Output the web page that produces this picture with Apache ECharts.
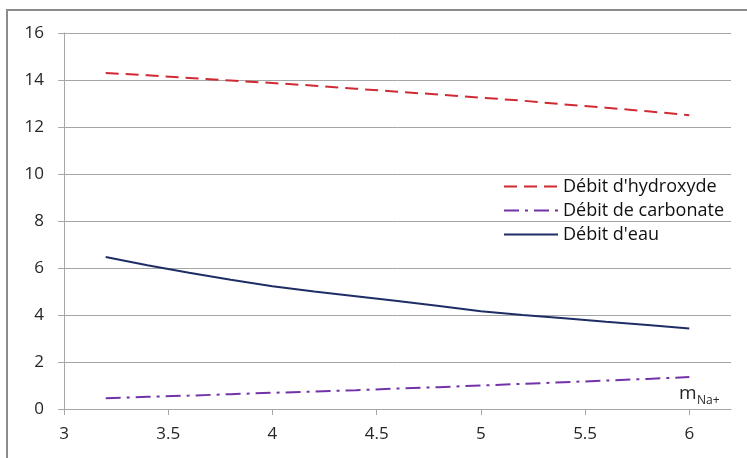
<!DOCTYPE html>
<html><head><meta charset="utf-8">
<script src="https://cdn.jsdelivr.net/npm/echarts@6/dist/echarts.min.js"></script>
<style>html,body{margin:0;padding:0;background:#fff}#c{width:747px;height:458px}</style>
</head><body><div id="c"></div>
<script>
const xValues = [3.2, 3.4, 3.6, 3.8, 4.0, 4.2, 4.4, 4.6, 4.8, 5.0, 5.2, 5.4, 5.6, 5.8, 6.0];
const hydroxyde = [14.30, 14.20, 14.09, 13.98, 13.87, 13.76, 13.63, 13.50, 13.38, 13.25, 13.12, 12.96, 12.82, 12.67, 12.50];
const carbonate = [0.46, 0.52, 0.57, 0.63, 0.69, 0.74, 0.80, 0.87, 0.93, 1.00, 1.07, 1.14, 1.21, 1.28, 1.36];
const eau = [6.47, 6.12, 5.80, 5.50, 5.22, 5.00, 4.80, 4.60, 4.38, 4.16, 4.00, 3.86, 3.71, 3.57, 3.43];
const xTicks = [3, 3.5, 4, 4.5, 5, 5.5, 6];
const seriesNames = ["Débit d'hydroxyde", "Débit de carbonate", "Débit d'eau"];

const pairs = ys => xValues.map((x, i) => [x, ys[i]]);
const font = 'Open Sans';
const chart = echarts.init(document.getElementById('c'), null, {renderer: 'canvas'});
chart.setOption({
  animation: false,
  backgroundColor: '#fff',
  grid: {left: 64, top: 33, right: 16, bottom: 49},
  xAxis: {
    type: 'value', min: 3, max: 6.2, interval: 0.5,
    splitLine: {show: false},
    axisLine: {onZero: false, lineStyle: {color: '#a6a6a6', width: 1}},
    axisTick: {show: true, length: 6, inside: false, customValues: xTicks, lineStyle: {color: '#a6a6a6'}},
    axisLabel: {customValues: xTicks, margin: 17, fontFamily: font, fontSize: 17, color: '#262626'}
  },
  yAxis: {
    type: 'value', min: 0, max: 16, interval: 2,
    splitLine: {show: true, lineStyle: {color: '#a6a6a6', width: 1}},
    axisLine: {show: true, lineStyle: {color: '#a6a6a6', width: 1}},
    axisTick: {show: true, length: 6, lineStyle: {color: '#a6a6a6'}},
    axisLabel: {margin: 20, fontFamily: font, fontSize: 17, color: '#262626'}
  },
  legend: {
    orient: 'vertical', left: 503, top: 177.5, padding: 0,
    itemWidth: 54, itemHeight: 14, itemGap: 6,
    itemStyle: {opacity: 0},
    textStyle: {fontFamily: font, fontSize: 18, lineHeight: 14, color: '#111'},
    data: seriesNames
  },
  series: [
    {name: seriesNames[0], type: 'line', symbol: 'none', data: pairs(hydroxyde),
     lineStyle: {color: '#d02a32', width: 2, type: [13, 7]}, itemStyle: {color: '#d02a32'}},
    {name: seriesNames[1], type: 'line', symbol: 'none', data: pairs(carbonate),
     lineStyle: {color: '#7332a8', width: 2, type: [15, 6, 3, 6]}, itemStyle: {color: '#7332a8'}},
    {name: seriesNames[2], type: 'line', symbol: 'none', data: pairs(eau),
     lineStyle: {color: '#1f2d66', width: 2, type: 'solid'}, itemStyle: {color: '#1f2d66'}}
  ],
  graphic: [
    {type: 'rect', shape: {x: 7, y: 10, width: 760, height: 470}, style: {fill: 'none', stroke: '#8c8c8c', lineWidth: 2}, silent: true},
    {type: 'text', x: 679, y: 384, style: {text: 'm', font: '19px "Open Sans"', fill: '#262626'}},
    {type: 'text', x: 697, y: 395, style: {text: 'Na+', font: '12px "Open Sans"', fill: '#262626'}}
  ]
});
</script></body></html>
